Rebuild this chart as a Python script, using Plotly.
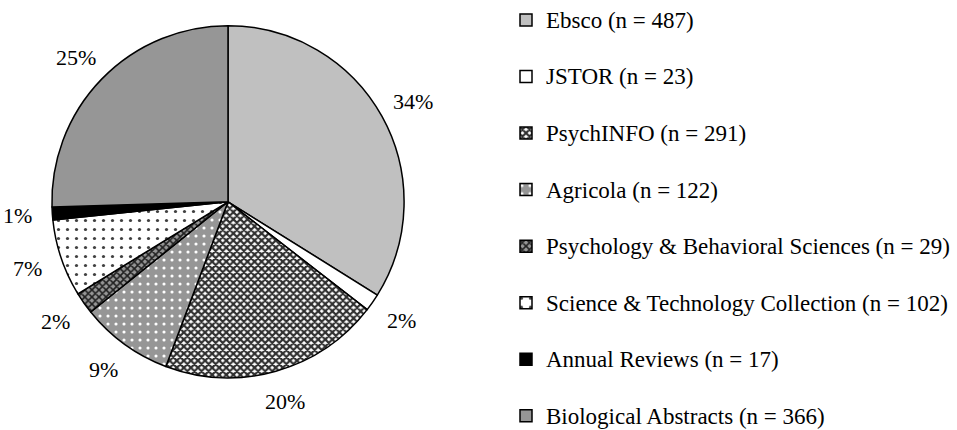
import math
import plotly.graph_objects as go

databases = ["Ebsco", "JSTOR", "PsychINFO", "Agricola",
             "Psychology & Behavioral Sciences", "Science & Technology Collection",
             "Annual Reviews", "Biological Abstracts"]
counts = [487, 23, 291, 122, 29, 102, 17, 366]
pct_labels = ["34%", "2%", "20%", "9%", "2%", "7%", "1%", "25%"]

fills = ["#c0c0c0", "#ffffff", "#ffffff", "#969696", "#969696", "#ffffff", "#000000", "#969696"]
pat_shapes = ["", "", "x", ".", "x", ".", "", ""]
pat_fg = ["#000000", "#000000", "#303030", "#ffffff", "#202020", "#404040", "#000000", "#000000"]
pat_size = [6, 6, 5, 8, 5, 9, 6, 6]
pat_solid = [0.3, 0.3, 0.68, 0.12, 0.55, 0.1, 0.3, 0.3]

W, H = 957, 430
CX, CY, R = 228, 198, 179
FONT = "Liberation Serif, Times New Roman, serif"

legend_labels = [f"<span style='font-size:23px'>{d} (n = {n})</span><br> "
                 for d, n in zip(databases, counts)]

fig = go.Figure(go.Pie(
    labels=legend_labels,
    values=counts,
    sort=False,
    direction="clockwise",
    rotation=0,
    textinfo="none",
    hoverinfo="value+percent",
    marker=dict(
        colors=fills,
        line=dict(color="#000000", width=1.5),
        pattern=dict(shape=pat_shapes, fgcolor=pat_fg, bgcolor=fills,
                     size=pat_size, solidity=pat_solid),
    ),
    domain=dict(x=[(CX - R) / W, (CX + R) / W], y=[1 - (CY + R) / H, 1 - (CY - R) / H]),
))

# percentage labels placed around the pie from the slice mid-angles
total = sum(counts)
cum = 0
annotations = []
for n, lab in zip(counts, pct_labels):
    mid = (cum + n / 2) / total * 2 * math.pi
    cum += n
    rl = R * 1.18
    px = CX + rl * math.sin(mid)
    py = CY - rl * math.cos(mid)
    annotations.append(dict(x=px / W, y=1 - py / H, xref="paper", yref="paper",
                            text=lab, showarrow=False, xanchor="center", yanchor="middle",
                            font=dict(family=FONT, size=22, color="#000000")))

fig.update_layout(
    width=W, height=H,
    margin=dict(l=0, r=0, t=0, b=0),
    paper_bgcolor="#ffffff",
    plot_bgcolor="#ffffff",
    font=dict(family=FONT, size=21, color="#000000"),
    annotations=annotations,
    legend=dict(x=506 / W, xanchor="left", y=1 + 7 / H, yanchor="top",
                valign="top", font=dict(family=FONT, size=20.6, color="#000000"),
                bgcolor="rgba(0,0,0,0)", itemclick=False, maxheight=600),
    showlegend=True,
)

fig.write_html("out.html", config={"displayModeBar": False},
               post_script="document.body.style.margin='0';document.body.style.overflow='hidden';")
